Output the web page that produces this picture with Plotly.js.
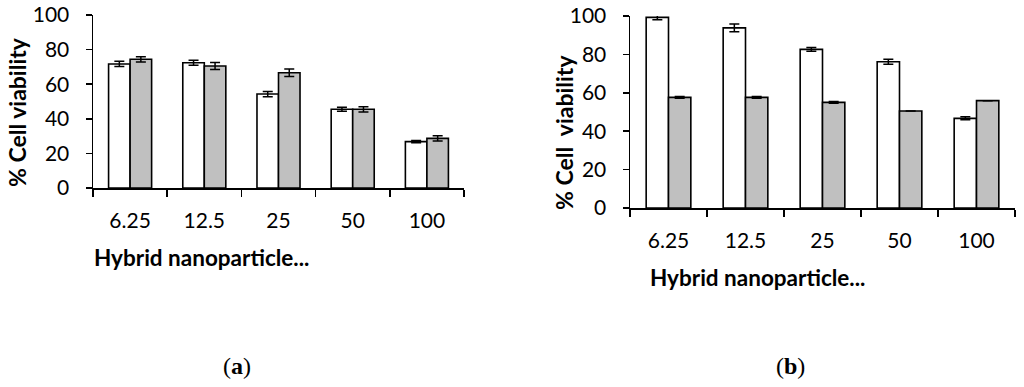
<!DOCTYPE html>
<html>
<head>
<meta charset="utf-8">
<script src="https://cdn.plot.ly/plotly-3.0.1.min.js"></script>
<style>html,body{margin:0;padding:0;background:#fff;}#chart{width:1024px;height:387px;}</style>
</head>
<body>
<div id="chart"></div>
<script>
const categories = ["6.25", "12.5", "25", "50", "100"];
const aWhite = [71.7, 72.4, 54.3, 45.5, 26.8];
const aWhiteErr = [1.5, 1.5, 1.5, 1.2, 0.7];
const aGray = [74.4, 70.5, 66.6, 45.5, 28.7];
const aGrayErr = [1.5, 2.0, 2.2, 1.5, 1.5];
const bWhite = [99.3, 93.8, 82.6, 76.2, 46.7];
const bWhiteErr = [1.3, 2.0, 1.0, 1.3, 0.8];
const bGray = [57.6, 57.6, 55.0, 50.5, 55.9];
const bGrayErr = [0.5, 0.5, 0.5, 0, 0];
const xTitle = "Hybrid nanoparticle...";
const yTitleA = "% Cell viability";
const yTitleB = "% Cell  viability";

const W = 1024, H = 387;
const font = "Lato, 'Open Sans', sans-serif";

function bar(y, err, fill, xa, ya) {
  return {
    type: "bar", x: categories, y: y, xaxis: xa, yaxis: ya,
    marker: {color: fill, line: {color: "#000", width: 1.6}},
    error_y: {type: "data", array: err, visible: true, color: "#000", thickness: 1.5, width: 5},
    showlegend: false, hoverinfo: "skip"
  };
}

const data = [
  bar(aWhite, aWhiteErr, "#ffffff", "x", "y"),
  bar(aGray, aGrayErr, "#c0c0c0", "x", "y"),
  bar(bWhite, bWhiteErr, "#ffffff", "x2", "y2"),
  bar(bGray, bGrayErr, "#c0c0c0", "x2", "y2")
];

function xaxis(d, standoff, anchor) {
  return {
    domain: d, anchor: anchor, type: "category", range: [-0.5, 4.5],
    showline: true, linecolor: "#000", linewidth: 1.5,
    ticks: "outside", tickson: "boundaries", ticklen: 7, tickwidth: 1.5, tickcolor: "#000",
    showgrid: false, zeroline: false, fixedrange: true,
    tickfont: {family: font, size: 21, color: "#000"},
    ticklabelstandoff: standoff
  };
}
function yaxis(d, anchor) {
  return {
    domain: d, anchor: anchor, range: [0, 100], tickvals: [0, 20, 40, 60, 80, 100],
    showline: true, linecolor: "#000", linewidth: 1.5,
    ticks: "outside", ticklen: 6, tickwidth: 1.5, tickcolor: "#000",
    showgrid: false, zeroline: false, fixedrange: true,
    tickfont: {family: font, size: 21, color: "#000"},
    ticklabelstandoff: 12
  };
}

const xBold = {family: font, size: 22.5, color: "#000"};
const yBold = {family: font, size: 23, color: "#000"};
const layout = {
  width: W, height: H,
  margin: {l: 0, r: 0, t: 0, b: 0},
  paper_bgcolor: "#fff", plot_bgcolor: "#fff",
  barmode: "group", bargap: 0.42, bargroupgap: 0,
  xaxis: xaxis([93 / W, 464 / W], 13, "y"),
  yaxis: yaxis([(H - 188) / H, (H - 15) / H], "x"),
  xaxis2: xaxis([630 / W, 1015 / W], 13, "y2"),
  yaxis2: yaxis([(H - 208) / H, (H - 16) / H], "x2"),
  annotations: [
    {xref: "paper", yref: "paper", x: 92 / W, y: 1 - 257 / H, xanchor: "left", yanchor: "middle",
     text: "<b>" + xTitle + "</b>", showarrow: false, font: xBold},
    {xref: "paper", yref: "paper", x: 648 / W, y: 1 - 277 / H, xanchor: "left", yanchor: "middle",
     text: "<b>" + xTitle + "</b>", showarrow: false, font: xBold},
    {xref: "paper", yref: "paper", x: 17 / W, y: 1 - 112 / H, xanchor: "center", yanchor: "middle",
     textangle: -90, text: "<b>" + yTitleA + "</b>", showarrow: false, font: yBold},
    {xref: "paper", yref: "paper", x: 564 / W, y: 1 - 133 / H, xanchor: "center", yanchor: "middle",
     textangle: -90, text: "<b>" + yTitleB + "</b>", showarrow: false, font: yBold},
    {xref: "paper", yref: "paper", x: 237 / W, y: 1 - 366 / H, xanchor: "center", yanchor: "middle",
     text: "(<b>a</b>)", showarrow: false, font: {family: "'Liberation Serif', 'DejaVu Serif', serif", size: 24, color: "#000"}},
    {xref: "paper", yref: "paper", x: 790 / W, y: 1 - 366 / H, xanchor: "center", yanchor: "middle",
     text: "(<b>b</b>)", showarrow: false, font: {family: "'Liberation Serif', 'DejaVu Serif', serif", size: 24, color: "#000"}}
  ]
};

Plotly.newPlot("chart", data, layout, {staticPlot: true, displayModeBar: false});
</script>
</body>
</html>
